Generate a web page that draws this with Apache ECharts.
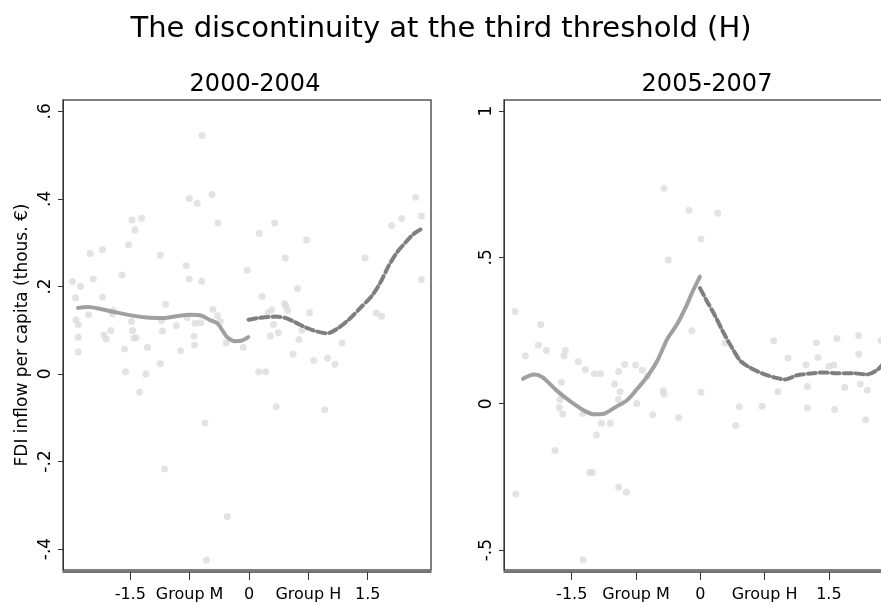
<!DOCTYPE html>
<html>
<head>
<meta charset="utf-8">
<script src="https://cdn.jsdelivr.net/npm/echarts@6/dist/echarts.min.js"></script>
<style>
html, body { margin: 0; padding: 0; background: #fff; }
#chart { width: 881px; height: 606px; }
</style>
</head>
<body>
<div id="chart"></div>
<script>
// tick positions and labels
var xTickVals   = [-1.5, -0.75, 0, 0.75, 1.5];
var xTickLabels = ['-1.5', 'Group M', '0', 'Group H', '1.5'];
var yTicksA     = [-0.4, -0.2, 0, 0.2, 0.4, 0.6];
var yLabelsA    = ['-.4', '-.2', '0', '.2', '.4', '.6'];
var yTicksB     = [-0.5, 0, 0.5, 1];
var yLabelsB    = ['-.5', '0', '.5', '1'];

// 2000-2004 : municipality points
var scatterA = [
    [-0.595,0.545],[-0.468,0.410],[-0.755,0.401],[-0.654,0.390],[-0.392,0.345],[-1.479,0.352],
    [-1.357,0.356],[-1.441,0.329],[-1.522,0.295],[-2.006,0.275],[-1.851,0.284],[-1.121,0.271],
    [-1.606,0.226],[-1.968,0.217],[-2.230,0.211],[-2.129,0.200],[-0.793,0.247],[-0.755,0.217],
    [-0.599,0.212],[-0.021,0.237],[-2.192,0.174],[-1.851,0.175],[-1.054,0.159],[-0.455,0.147],
    [-0.397,0.133],[-2.028,0.135],[-1.716,0.145],[-1.724,0.137],[-2.187,0.124],[-2.157,0.113],
    [-1.484,0.120],[-1.105,0.122],[-0.780,0.129],[-0.679,0.116],[-0.607,0.117],[-0.363,0.120],
    [-0.919,0.110],[-1.471,0.099],[-1.745,0.099],[-1.092,0.098],[-2.158,0.084],[-1.833,0.089],
    [-1.804,0.080],[-1.454,0.082],[-1.425,0.083],[-0.695,0.086],[-0.287,0.071],[-0.072,0.061],
    [-0.688,0.066],[-2.158,0.050],[-1.572,0.057],[-1.282,0.061],[-0.864,0.053],[-1.121,0.024],
    [-1.560,0.005],[-1.302,0.000],[-1.383,-0.042],
    [2.106,0.404],[2.178,0.361],[1.930,0.355],[1.803,0.339],[2.178,0.216],[1.466,0.265],
    [0.324,0.345],[0.130,0.321],[0.728,0.306],[0.459,0.265],[0.614,0.195],[0.168,0.177],
    [0.450,0.161],[0.467,0.155],[0.488,0.145],[0.286,0.146],[0.240,0.140],[0.766,0.140],
    [1.609,0.139],[1.676,0.132],[0.311,0.113],[0.670,0.100],[0.370,0.094],[0.269,0.087],
    [0.632,0.079],[1.176,0.071],[0.556,0.045],[0.817,0.031],[0.994,0.036],[1.087,0.022],
    [0.122,0.005],[0.210,0.005],
    [0.345,-0.075],[0.956,-0.082],[-0.556,-0.112],[-1.067,-0.217],[-0.274,-0.326],[-0.536,-0.425]
];
// 2000-2004 : fitted lines left / right of threshold
var solidA = [
    [-2.163,0.151],[-2.030,0.153],[-1.863,0.148],[-1.715,0.142],[-1.526,0.135],[-1.294,0.129],
    [-1.083,0.128],[-0.915,0.132],[-0.746,0.135],[-0.599,0.133],[-0.493,0.123],[-0.401,0.116],
    [-0.334,0.099],[-0.275,0.084],[-0.177,0.075],[-0.094,0.076],[-0.009,0.084]
];
var dashA = [
    [-0.005,0.124],[0.121,0.128],[0.332,0.131],[0.459,0.128],[0.585,0.118],[0.733,0.105],
    [0.859,0.097],[0.986,0.093],[1.112,0.103],[1.259,0.124],[1.407,0.151],[1.555,0.179],
    [1.660,0.209],[1.765,0.247],[1.871,0.278],[1.976,0.300],[2.081,0.320],[2.195,0.333]
];

// 2005-2007 : municipality points
var scatterB = [
    [-0.423,0.735],[-0.132,0.661],[0.203,0.651],[0.008,0.563],[-0.373,0.491],[-2.161,0.315],
    [-1.862,0.271],[-0.100,0.249],
    [-1.889,0.201],[-1.796,0.182],[-1.575,0.183],[-1.590,0.164],[-2.041,0.164],[-1.423,0.143],
    [-1.341,0.116],[-1.236,0.102],[-1.162,0.102],[-0.882,0.134],[-0.754,0.132],[-0.952,0.110],
    [-0.676,0.114],[-0.618,0.094],[-1.621,0.073],[-0.999,0.067],[-0.937,0.041],[-0.432,0.044],
    [-0.423,0.033],[0.008,0.039],[-1.637,0.014],[-0.956,0.014],[-1.645,-0.013],[-1.605,-0.035],
    [-1.372,-0.033],[-0.742,0.001],[-0.555,-0.038],[-0.252,-0.048],[-1.155,-0.067],[-1.050,-0.067],
    [-1.213,-0.107],[-1.695,-0.160],
    [-2.153,-0.308],[-1.290,-0.235],[-1.260,-0.235],[-0.952,-0.285],[-0.863,-0.302],[-1.368,-0.533],
    [0.413,-0.074],[0.455,-0.010],[0.720,-0.009],[0.906,0.041],[1.249,0.059],[1.249,-0.014],
    [1.567,-0.020],[1.684,0.055],[1.866,0.067],[1.948,0.046],[1.929,-0.055],[1.023,0.156],
    [0.856,0.215],[1.233,0.133],[1.373,0.158],[1.353,0.208],[1.594,0.223],[1.501,0.128],
    [1.556,0.132],[1.847,0.169],[1.847,0.233],[2.107,0.216],[0.288,0.207]
];
// 2005-2007 : fitted lines
var solidB = [
    [-2.068,0.085],[-1.940,0.100],[-1.843,0.091],[-1.668,0.043],[-1.512,0.007],[-1.357,-0.023],
    [-1.240,-0.036],[-1.123,-0.034],[-0.987,-0.011],[-0.851,0.013],[-0.735,0.051],[-0.618,0.093],
    [-0.501,0.147],[-0.385,0.221],[-0.268,0.273],[-0.171,0.329],[-0.093,0.381],[-0.004,0.434]
];
var dashB = [
    [-0.004,0.395],[0.074,0.352],[0.171,0.301],[0.268,0.244],[0.366,0.193],[0.463,0.148],
    [0.580,0.123],[0.735,0.102],[0.852,0.091],[0.988,0.083],[1.124,0.097],[1.280,0.103],
    [1.435,0.107],[1.591,0.104],[1.785,0.104],[1.941,0.100],[2.057,0.114],[2.116,0.131],
    [2.200,0.170]
];

var FONT = 'DejaVu Sans';
var DOT_COLOR = '#dcdcdc';
var SOLID_COLOR = '#a0a0a0';
var DASH_COLOR = '#7f7f7f';

function lookup(vals, labels, v)
{
    for (var i = 0; i < vals.length; i++) {
        if (Math.abs(vals[i] - v) < 1e-6) return labels[i];
    }
    return '';
}

function makeX(idx, min, max)
{
    return {
        type : 'value', gridIndex : idx, min : min, max : max,
        offset : 2,
        splitLine : {show : false},
        axisLine  : {show : true, onZero : false, lineStyle : {color : '#444', width : 1.5}},
        axisTick  : {show : true, length : 8, customValues : xTickVals, lineStyle : {color : '#333'}},
        axisLabel : {
            customValues : xTickVals, margin : 15, color : '#000',
            fontFamily : FONT, fontSize : 16,
            formatter : function (v) { return lookup(xTickVals, xTickLabels, v); }
        }
    };
}

function makeY(idx, min, max, vals, labels, name)
{
    return {
        type : 'value', gridIndex : idx, min : min, max : max,
        name : name, nameLocation : 'middle', nameGap : 32,
        nameTextStyle : {fontFamily : FONT, fontSize : 17, color : '#000'},
        splitLine : {show : false},
        axisLine  : {show : true, onZero : false, lineStyle : {color : '#333', width : 1}},
        axisTick  : {show : true, length : 5, customValues : vals, lineStyle : {color : '#333'}},
        axisLabel : {
            customValues : vals, rotate : 90, margin : 9, color : '#000',
            fontFamily : FONT, fontSize : 17,
            formatter : function (v) { return lookup(vals, labels, v); }
        }
    };
}

function scatterSeries(idx, data)
{
    return {
        type : 'scatter', xAxisIndex : idx, yAxisIndex : idx, data : data,
        symbolSize : 7, itemStyle : {color : DOT_COLOR}, silent : true, z : 1
    };
}

function lineSeries(idx, data, color, dashed)
{
    return {
        type : 'line', xAxisIndex : idx, yAxisIndex : idx, data : data,
        smooth : 0.3, showSymbol : false, silent : true, z : 3,
        lineStyle : {
            color : color, width : 4, cap : 'round',
            type : dashed ? [8, 4] : 'solid'
        }
    };
}

function drawChart()
{
    var myChart = echarts.init(document.getElementById('chart'), null, {renderer : 'canvas'});
    var titleFont = {fontFamily : FONT, fontWeight : 'normal', color : '#000'};
    var options = {
        backgroundColor : '#fff',
        animation : false,
        title : [
            {text : 'The discontinuity at the third threshold (H)', left : 441, top : 15, padding : 0,
             textAlign : 'center', textStyle : echarts.util.extend({fontSize : 29}, titleFont)},
            {text : '2000-2004', left : 255, top : 73, padding : 0, textAlign : 'center',
             textStyle : echarts.util.extend({fontSize : 24}, titleFont)},
            {text : '2005-2007', left : 707, top : 73, padding : 0, textAlign : 'center',
             textStyle : echarts.util.extend({fontSize : 24}, titleFont)}
        ],
        // right panel runs past the window edge, as in the reference
        grid : [
            {left : 63, top : 100, width : 368, height : 470, show : true, outerBoundsMode : 'none',
             borderColor : '#555', borderWidth : 1.5, backgroundColor : '#fff'},
            {left : 504, top : 100, width : 394, height : 470, show : true, outerBoundsMode : 'none',
             borderColor : '#555', borderWidth : 1.5, backgroundColor : '#fff'}
        ],
        xAxis : [makeX(0, -2.35, 2.30), makeX(1, -2.29, 2.306)],
        yAxis : [
            makeY(0, -0.448, 0.626, yTicksA, yLabelsA, 'FDI inflow per capita (thous. \u20ac)'),
            makeY(1, -0.568, 1.0375, yTicksB, yLabelsB, '')
        ],
        series : [
            scatterSeries(0, scatterA),
            lineSeries(0, solidA, SOLID_COLOR, false),
            lineSeries(0, dashA, DASH_COLOR, true),
            scatterSeries(1, scatterB),
            lineSeries(1, solidB, SOLID_COLOR, false),
            lineSeries(1, dashB, DASH_COLOR, true)
        ]
    };
    myChart.setOption(options, true);
}

drawChart();
</script>
</body>
</html>
